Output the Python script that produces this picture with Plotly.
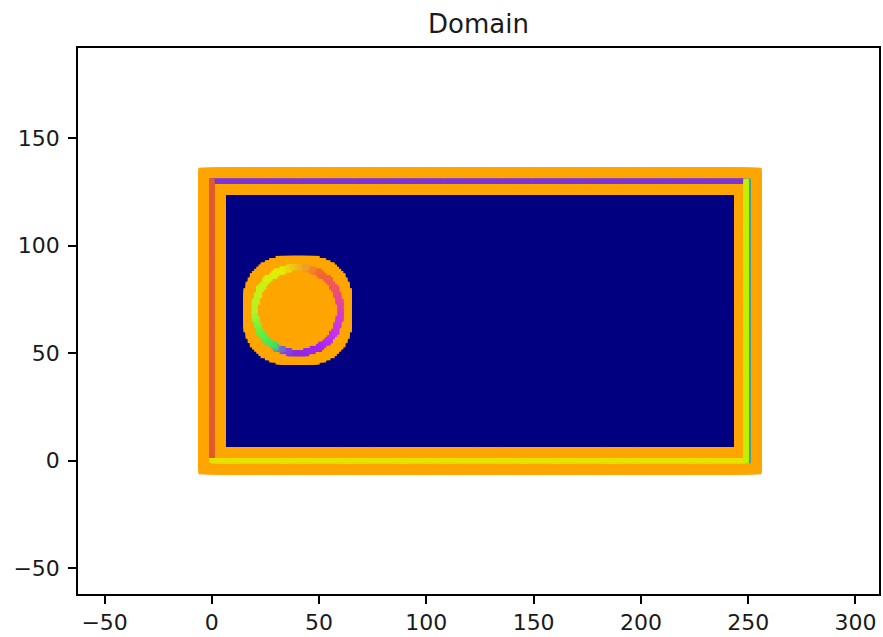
import numpy as np
import plotly.graph_objects as go

# Lattice extent (node indices) and cylinder obstacle
NX = 250
NY = 130
CYL_CENTER = (40, 70)
CYL_RADIUS = 19.5
BOUNDARY_BAND = (19.3, 20.6)

# Axis setup
x_range = [-62.4, 311.0]
y_range = [-62.0, 192.0]
x_ticks = [-50, 0, 50, 100, 150, 200, 250, 300]
y_ticks = [-50, 0, 50, 100, 150]

FLUID_COLOR = "#000080"
SOLID_COLOR = "#ffa500"

# Boundary-node colours on the channel walls
top_wall_color = "#7b33dc"
left_wall_color = "#e4582e"
bottom_wall_color = "#e6e200"
right_wall_color = "#c2f000"
right_edge_color = "#4a9fa0"

# Colour stops for the cylinder boundary nodes, by polar angle (degrees)
ring_angles = [0, 30, 60, 85, 110, 150, 180, 210, 235, 252, 270, 300, 330, 360]
ring_colors = ["#d83cc8", "#f0506a", "#f26a2c", "#f0b020", "#e4ee00", "#c6f014",
               "#b4f028", "#62f03e", "#44e060", "#7a4ee0", "#8a2be2", "#a024f0",
               "#c234ee", "#d83cc8"]

# ---- lattice geometry ----
xx, yy = np.meshgrid(np.arange(0, NX + 1), np.arange(0, NY + 1))
xx = xx.ravel()
yy = yy.ravel()
dist = np.hypot(xx - CYL_CENTER[0], yy - CYL_CENTER[1])

walls = (xx == 0) | (xx == NX) | (yy == 0) | (yy == NY)
cylinder = dist <= CYL_RADIUS
solid = walls | cylinder
fluid = ~solid
ring = (dist > BOUNDARY_BAND[0]) & (dist <= BOUNDARY_BAND[1])
ring_theta = np.degrees(np.arctan2(yy[ring] - CYL_CENTER[1], xx[ring] - CYL_CENTER[0])) % 360

span = ring_angles[-1] - ring_angles[0]
ring_scale = [[(a - ring_angles[0]) / span, c] for a, c in zip(ring_angles, ring_colors)]

fig = go.Figure()

# fluid nodes
fig.add_trace(go.Scatter(
    x=xx[fluid], y=yy[fluid], mode="markers", hoverinfo="skip",
    marker=dict(symbol="square", size=3, color=FLUID_COLOR, line=dict(width=0)),
))

# solid nodes (walls + cylinder)
fig.add_trace(go.Scatter(
    x=xx[solid], y=yy[solid], mode="markers", hoverinfo="skip",
    marker=dict(symbol="square", size=27, color=SOLID_COLOR, line=dict(width=0)),
))

# wall boundary nodes
wall_lines = [
    (np.arange(0, NX), np.full(NX, NY), top_wall_color),
    (np.zeros(NY + 1), np.arange(0, NY + 1), left_wall_color),
    (np.arange(0, NX + 1), np.zeros(NX + 1), bottom_wall_color),
    (np.full(NY + 1, NX), np.arange(0, NY + 1), right_edge_color),
    (np.full(NY + 1, NX - 1), np.arange(0, NY + 1), right_wall_color),
]
for wx, wy, wc in wall_lines:
    fig.add_trace(go.Scatter(
        x=wx, y=wy, mode="markers", hoverinfo="skip",
        marker=dict(symbol="square", size=5.5, color=wc, line=dict(width=0)),
    ))

# cylinder boundary nodes
fig.add_trace(go.Scatter(
    x=xx[ring], y=yy[ring], mode="markers", hoverinfo="skip",
    marker=dict(symbol="square", size=6, color=ring_theta, colorscale=ring_scale,
                cmin=ring_angles[0], cmax=ring_angles[-1], line=dict(width=0),
                showscale=False),
))

axis_common = dict(
    showgrid=False, zeroline=False, showline=True, mirror=True,
    linecolor="black", linewidth=1.5, ticks="outside", ticklen=8,
    tickwidth=1.5, tickcolor="black",
    tickfont=dict(family="DejaVu Sans", size=22, color="#1a1a1a"),
)

fig.update_layout(
    width=883, height=637,
    margin=dict(l=78, r=2, t=48, b=43),
    paper_bgcolor="white", plot_bgcolor="white",
    showlegend=False,
    title=dict(text="Domain", x=0.5, xref="paper", y=1 - 24 / 637, yref="container",
               xanchor="center", yanchor="middle",
               font=dict(family="DejaVu Sans", size=26, color="#1a1a1a")),
    xaxis=dict(range=x_range, tickvals=x_ticks, **axis_common),
    yaxis=dict(range=y_range, tickvals=y_ticks, ticklabelstandoff=4, **axis_common),
)

fig.write_html("out.html")
